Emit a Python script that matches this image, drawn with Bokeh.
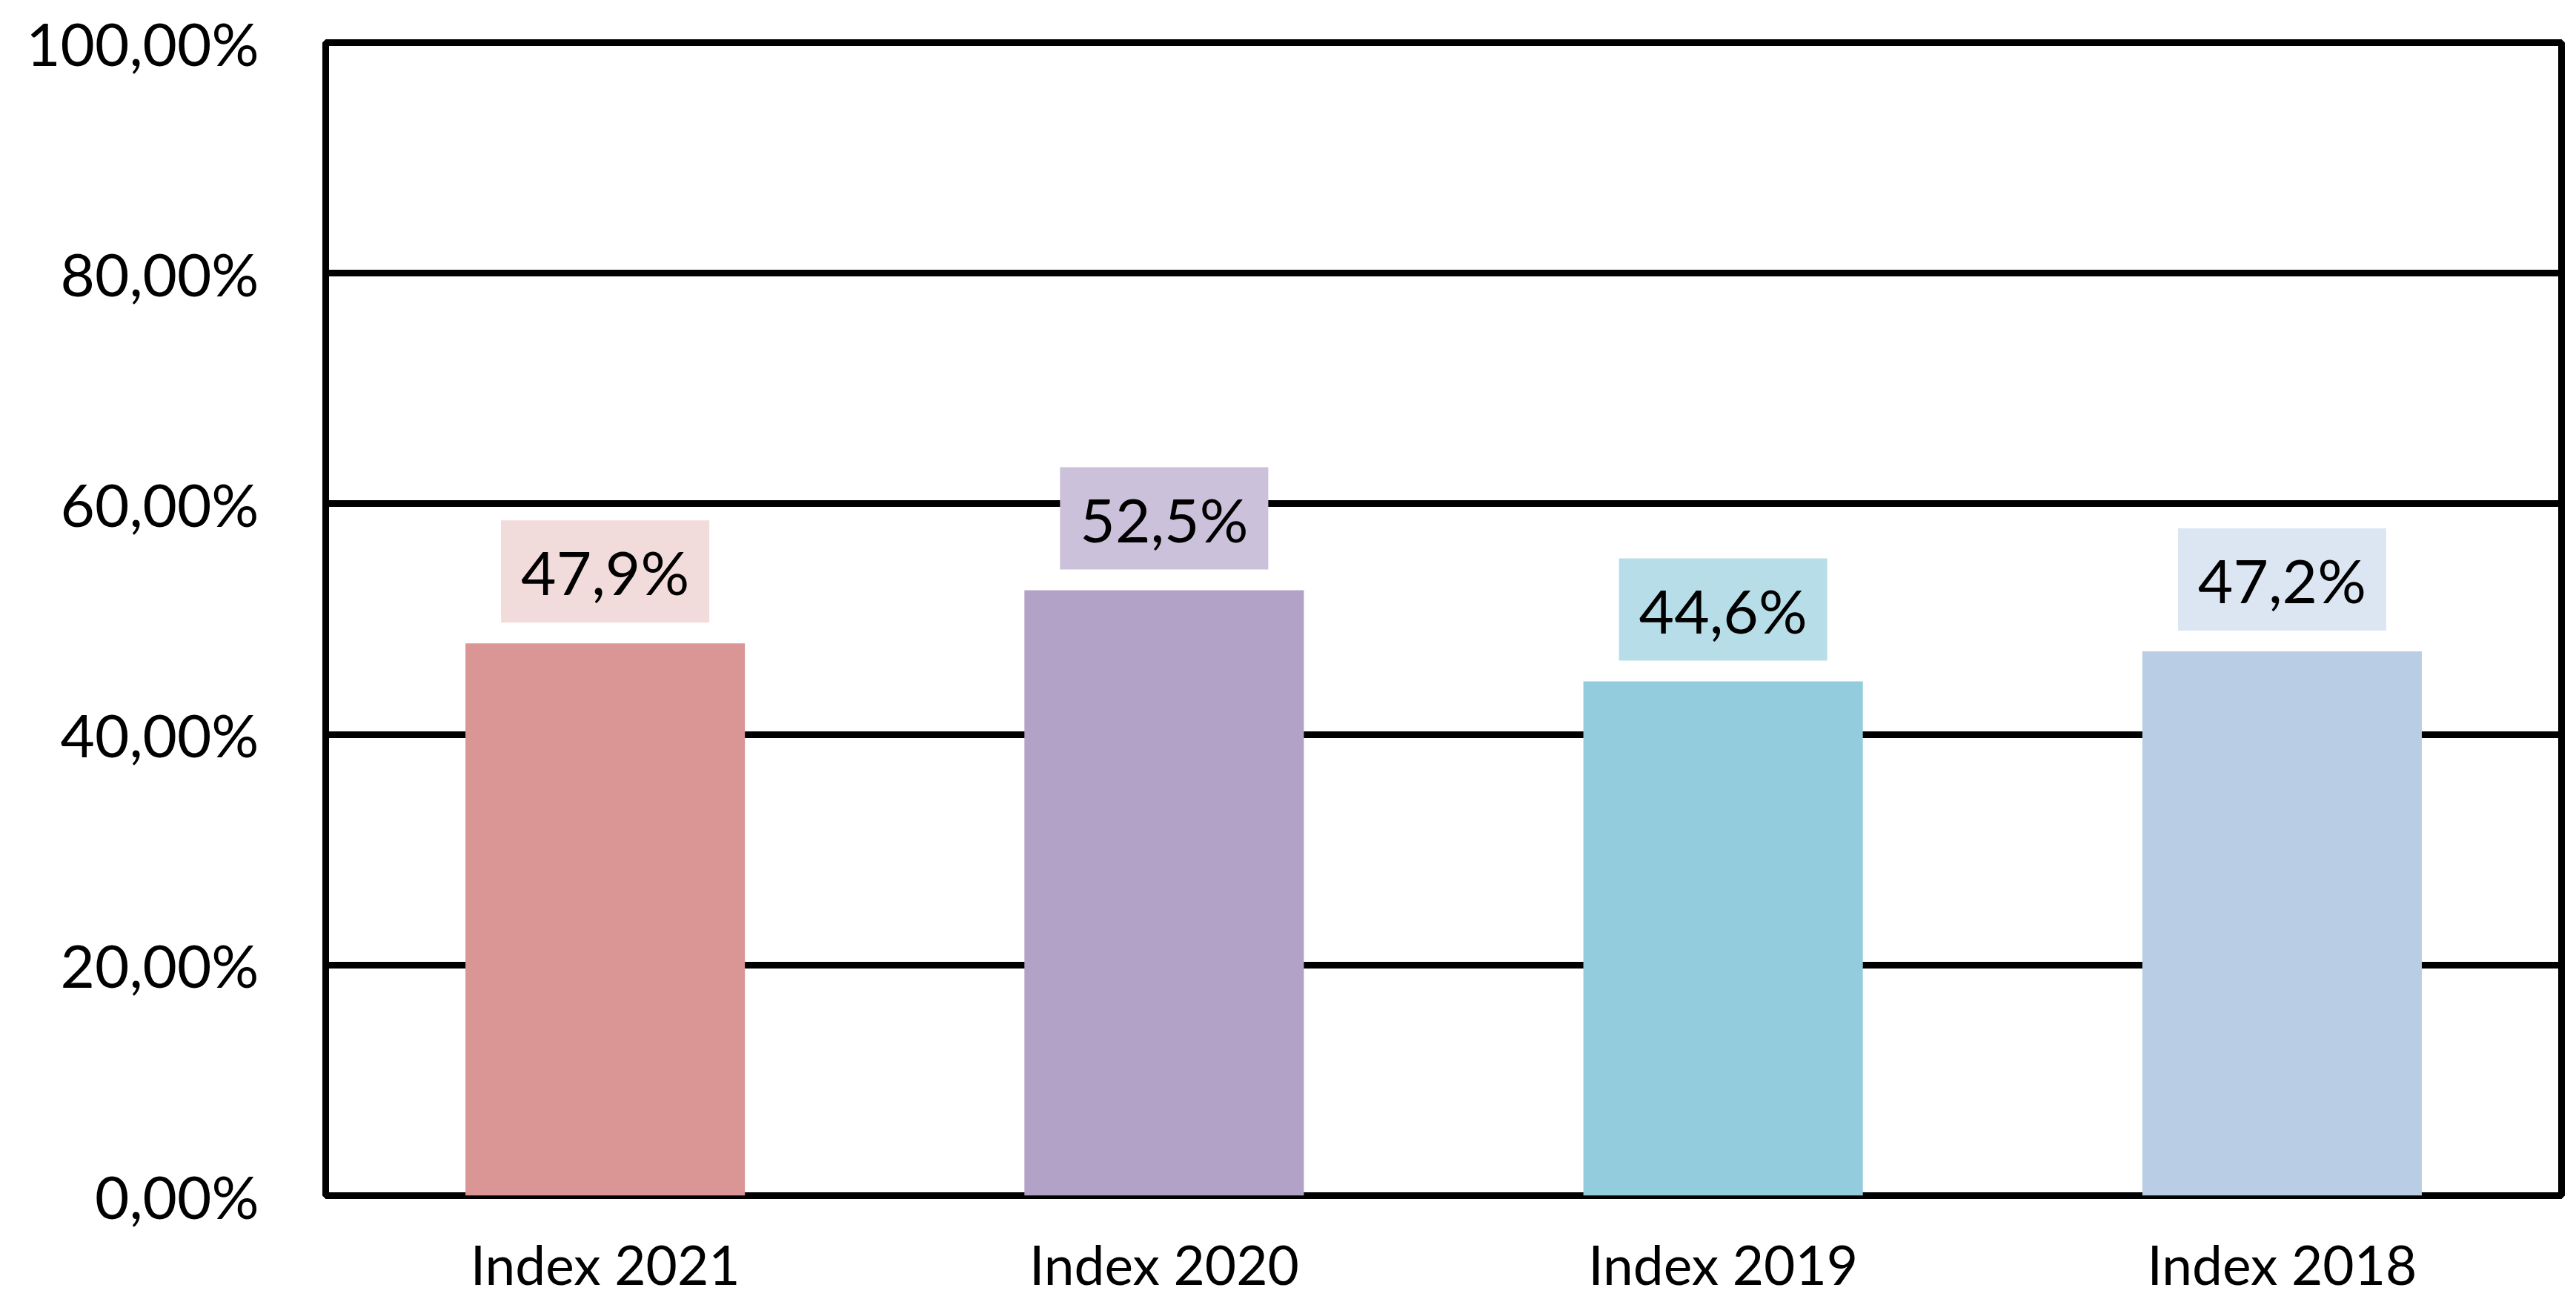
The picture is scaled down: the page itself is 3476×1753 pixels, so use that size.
from bokeh.plotting import figure
from bokeh.models import (ColumnDataSource, FactorRange, Range1d, FixedTicker,
                          CustomJSTickFormatter)
from bokeh.embed import file_html
from bokeh.resources import INLINE
from bokeh.core.properties import value

categories = ["Index 2021", "Index 2020", "Index 2019", "Index 2018"]
shares = [0.479, 0.525, 0.446, 0.472]
label_texts = ["47,9%", "52,5%", "44,6%", "47,2%"]
bar_colors = ["#D99694", "#B3A2C7", "#93CDDD", "#B9CDE5"]
box_colors = ["#F2DCDB", "#CCC1DA", "#B7DEE8", "#DCE6F2"]
y_ticks = [0.0, 0.2, 0.4, 0.6, 0.8, 1.0]
y_tick_labels = ["0,00%", "20,00%", "40,00%", "60,00%", "80,00%", "100,00%"]

src = ColumnDataSource(dict(cat=categories, val=shares, lab=label_texts,
                            bc=bar_colors, lc=box_colors))

p = figure(width=3470, height=1753, x_range=FactorRange(*categories, range_padding=0),
           y_range=Range1d(0, 1), output_backend="svg", toolbar_location=None,
           min_border_left=439, min_border_right=14, min_border_top=57, min_border_bottom=140)

p.vbar(x="cat", top="val", width=0.5, source=src, fill_color="bc", line_color=None)

p.text(x="cat", y="val", text="lab", source=src, text_align="center", text_baseline="middle",
       y_offset=-97, text_font=value("Lato"), text_font_size="82px", text_color="black",
       background_fill_color="lc", padding=dict(left=27, right=27, top=20, bottom=20))

p.outline_line_color = "black"
p.outline_line_width = 9
p.xgrid.grid_line_color = None
p.ygrid.grid_line_color = "black"
p.ygrid.grid_line_width = 9
p.ygrid.ticker = FixedTicker(ticks=y_ticks)

p.yaxis.ticker = FixedTicker(ticks=y_ticks)
p.yaxis.formatter = CustomJSTickFormatter(args=dict(tvals=y_ticks, tlabs=y_tick_labels), code="""
const i = tvals.findIndex(t => Math.abs(t - tick) < 1e-9);
return i >= 0 ? tlabs[i] : "";
""")
for ax in (p.xaxis[0], p.yaxis[0]):
    ax.axis_line_color = None
    ax.major_tick_line_color = None
    ax.minor_tick_line_color = None
    ax.major_tick_out = 0
    ax.major_tick_in = 0
    ax.minor_tick_out = 0
    ax.major_label_text_font = "Lato"
    ax.major_label_text_color = "black"
p.yaxis.major_label_text_font_size = "80px"
p.yaxis.major_label_standoff = 90
p.xaxis.major_label_text_font_size = "73px"
p.xaxis.major_label_text_line_height = 1.0
p.xaxis.major_label_standoff = 48

open("out.html", "w").write(file_html(p, INLINE))
